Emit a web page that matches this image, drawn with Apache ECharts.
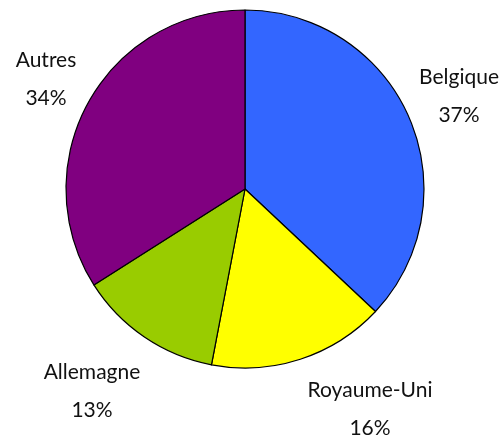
<!DOCTYPE html>
<html lang="fr">
<head>
<meta charset="UTF-8">
<title>Répartition</title>
<script src="https://cdn.jsdelivr.net/npm/echarts@6/dist/echarts.min.js"></script>
<style>
  html, body { margin: 0; padding: 0; background: #fff; }
  #main { width: 504px; height: 439px; }
</style>
</head>
<body>
<div id="main"></div>
<script>
// données du camembert
var pays = ['Belgique', 'Royaume-Uni', 'Allemagne', 'Autres'];
var parts = [37, 16, 13, 34];
var couleurs = ['#3366FF', '#FFFF00', '#99CC00', '#800080'];
// centre des étiquettes (mise en page seulement)
var posEtiquettes = [[459, 96], [370, 409], [92, 391], [46, 79]];

var data = [];
for (var i = 0; i < pays.length; i++) {
    data.push({ name: pays[i], value: parts[i], itemStyle: { color: couleurs[i] } });
}

var chart = echarts.init(document.getElementById('main'));
chart.setOption({
    animation: false,
    series: [{
        type: 'pie',
        center: [245, 189],
        radius: 179,
        startAngle: 90,
        clockwise: true,
        avoidLabelOverlap: false,
        data: data,
        itemStyle: { borderColor: '#000', borderWidth: 1.2 },
        emphasis: { disabled: true },
        label: {
            show: true,
            position: 'outside',
            formatter: '{b}\n{c}%',
            color: '#111',
            fontFamily: 'Lato',
            fontSize: 21,
            lineHeight: 38,
            align: 'center'
        },
        labelLine: { show: false },
        labelLayout: function (params) {
            var p = posEtiquettes[params.dataIndex];
            return { x: p[0], y: p[1], align: 'center', verticalAlign: 'middle', hideOverlap: false };
        }
    }]
});
</script>
</body>
</html>
